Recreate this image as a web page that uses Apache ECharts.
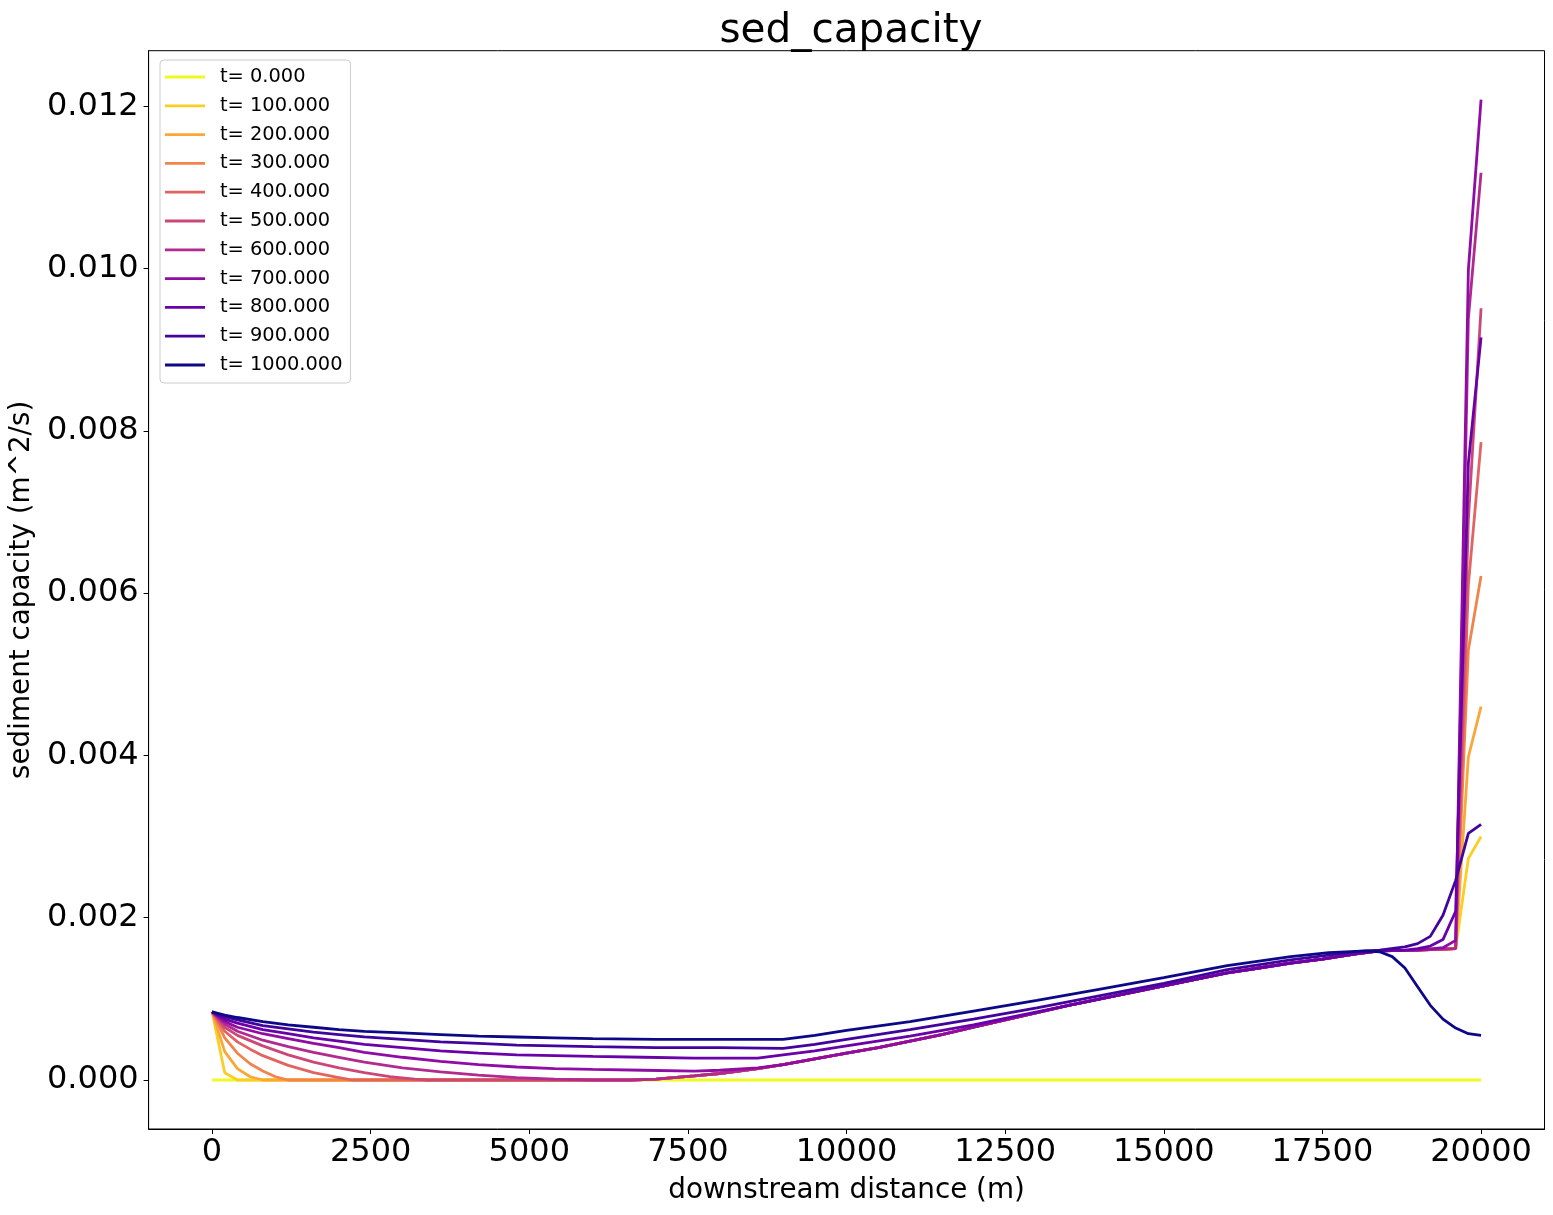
<!DOCTYPE html>
<html>
<head>
<meta charset="utf-8">
<title>sed_capacity</title>
<script src="https://cdn.jsdelivr.net/npm/echarts@6/dist/echarts.min.js"></script>
<style>
    html, body { margin: 0; padding: 0; background: #fff; }
    #chart { width: 1553px; height: 1215px; }
</style>
</head>
<body>
<div id="chart"></div>
<script>
'use strict';

// legend labels and colours (plasma, reversed)
var timeLabels = ['t= 0.000', 't= 100.000', 't= 200.000', 't= 300.000', 't= 400.000', 't= 500.000',
    't= 600.000', 't= 700.000', 't= 800.000', 't= 900.000', 't= 1000.000'];
var lineColors = ['#f0f921', '#fcce25', '#fca636', '#f2844b', '#e16462', '#cc4778',
    '#b12a90', '#8f0da4', '#6a00a8', '#41049d', '#0d0887'];

var xTicks = [0, 2500, 5000, 7500, 10000, 12500, 15000, 17500, 20000];
var yTicks = [0, 0.002, 0.004, 0.006, 0.008, 0.010, 0.012];

// [downstream distance (m), sediment capacity (m^2/s)]

// the rising stretch most profiles share in the middle of the reach
var sharedRise = [[6600, 0], [7000, 0.00001], [7600, 0.00005], [8000, 0.00008], [8600, 0.00014],
    [9000, 0.00019], [9500, 0.00026], [10000, 0.00033], [10500, 0.00040], [11000, 0.00048],
    [11500, 0.00056], [12000, 0.00065], [12500, 0.00074], [13000, 0.00083], [13500, 0.00092],
    [14000, 0.00100], [14500, 0.00108], [15000, 0.00116], [15500, 0.00124], [16000, 0.00132],
    [16500, 0.00138], [17000, 0.00144], [17500, 0.00149], [18000, 0.00155], [18400, 0.00159]];

var sed0 = [[0, 0], [20000, 0]];

var head100 = [[0, 0.00084], [200, 0.00009], [400, 0]];
var tail100 = [[19000, 0.00160], [19600, 0.00162], [19800, 0.00273], [20000, 0.00300]];

var head200 = [[0, 0.00084], [200, 0.00035], [400, 0.00014], [600, 0.00004], [800, 0]];
var tail200 = [[19000, 0.00160], [19600, 0.00162], [19800, 0.00398], [20000, 0.00460]];

var head300 = [[0, 0.00084], [200, 0.00052], [400, 0.00033], [600, 0.00020], [800, 0.00011],
    [1000, 0.00004], [1200, 0]];
var tail300 = [[19000, 0.00160], [19600, 0.00162], [19800, 0.00530], [20000, 0.00621]];

var head400 = [[0, 0.00084], [200, 0.00060], [400, 0.00047], [600, 0.00038], [800, 0.00030],
    [1200, 0.00018], [1600, 0.00009], [2000, 0.00003], [2200, 0]];
var tail400 = [[19000, 0.00160], [19600, 0.00162], [19800, 0.00610], [20000, 0.00786]];

var head500 = [[0, 0.00084], [200, 0.00065], [400, 0.00055], [800, 0.00042], [1200, 0.00031],
    [1600, 0.00022], [2000, 0.00015], [2400, 0.00009], [2800, 0.00004], [3200, 0.00001], [3400, 0]];
var tail500 = [[19000, 0.00160], [19600, 0.00162], [19800, 0.00690], [20000, 0.00951]];

var head600 = [[0, 0.00084], [200, 0.00069], [400, 0.00060], [800, 0.00049], [1200, 0.00041],
    [1600, 0.00034], [2000, 0.00028], [2400, 0.00022], [3000, 0.00015], [3600, 0.00010],
    [4200, 0.00006], [4800, 0.00003], [5400, 0.00001], [6000, 0]];
var tail600 = [[19000, 0.00160], [19600, 0.00162], [19800, 0.00938], [20000, 0.01118]];

var head700 = [[0, 0.00084], [200, 0.00072], [400, 0.00065], [800, 0.00057], [1200, 0.00051],
    [1600, 0.00045], [2000, 0.00040], [2400, 0.00034], [3000, 0.00028], [3600, 0.00023],
    [4200, 0.00019], [4800, 0.00016], [5400, 0.00014], [6000, 0.00013], [6800, 0.00012],
    [7600, 0.00011], [8000, 0.00012], [8600, 0.00015]];
var tail700 = [[19000, 0.00160], [19400, 0.00163], [19600, 0.00172], [19800, 0.00998], [20000, 0.01208]];

var head800 = [[0, 0.00084], [200, 0.00075], [400, 0.00070], [800, 0.00062], [1200, 0.00057],
    [1600, 0.00052], [2000, 0.00048], [2400, 0.00044], [3000, 0.00040], [3600, 0.00036],
    [4200, 0.00033], [4800, 0.00031], [5400, 0.00030], [6000, 0.00029], [6800, 0.00028],
    [7600, 0.00027], [8600, 0.00027], [9000, 0.00031], [9500, 0.00036], [10000, 0.00042],
    [11000, 0.00054], [12000, 0.00068], [13000, 0.00084], [14000, 0.00100]];
var tail800 = [[18800, 0.00160], [19000, 0.00162], [19200, 0.00165], [19400, 0.00173],
    [19600, 0.00208], [19800, 0.00760], [20000, 0.00915]];

var head900 = [[0, 0.00084], [200, 0.00078], [400, 0.00074], [800, 0.00067], [1200, 0.00063],
    [1600, 0.00059], [2000, 0.00056], [2400, 0.00053], [3000, 0.00050], [3600, 0.00047],
    [4200, 0.00045], [4800, 0.00043], [5400, 0.00042], [6000, 0.00041], [7000, 0.00040],
    [8000, 0.00040], [9000, 0.00039], [9500, 0.00044], [10000, 0.00050], [11000, 0.00062],
    [12000, 0.00075], [13000, 0.00089], [14000, 0.00104], [15000, 0.00119], [16000, 0.00136],
    [17000, 0.00148], [17600, 0.00154], [18000, 0.00158], [18400, 0.00160]];
var tail900 = [[18800, 0.00164], [19000, 0.00168], [19200, 0.00177], [19400, 0.00203],
    [19600, 0.00246], [19800, 0.00304], [20000, 0.00315]];

var sed1000 = [[0, 0.00084], [200, 0.00080], [400, 0.00077], [800, 0.00072], [1200, 0.00068],
    [1600, 0.00065], [2000, 0.00062], [2400, 0.00060], [3000, 0.00058], [3600, 0.00056],
    [4200, 0.00054], [4800, 0.00053], [5400, 0.00052], [6000, 0.00051], [7000, 0.00050],
    [8000, 0.00050], [9000, 0.00050], [9500, 0.00055], [10000, 0.00061], [11000, 0.00072],
    [12000, 0.00085], [13000, 0.00098], [14000, 0.00112], [15000, 0.00126], [16000, 0.00141],
    [17000, 0.00152], [17600, 0.00157], [18200, 0.00159], [18400, 0.00158], [18600, 0.00152],
    [18800, 0.00138], [19000, 0.00115], [19200, 0.00092], [19400, 0.00075], [19600, 0.00064],
    [19800, 0.00057], [20000, 0.00055]];

function riseFrom(x0) {
    return sharedRise.filter(function(p) { return p[0] >= x0; });
}

var profiles = [
    sed0,
    head100.concat(sharedRise, tail100),
    head200.concat(sharedRise, tail200),
    head300.concat(sharedRise, tail300),
    head400.concat(sharedRise, tail400),
    head500.concat(sharedRise, tail500),
    head600.concat(sharedRise, tail600),
    head700.concat(riseFrom(9000), tail700),
    head800.concat(riseFrom(14500), tail800),
    head900.concat(tail900),
    sed1000
];

var FONT = '"DejaVu Sans", "Liberation Sans", sans-serif';

var chart = echarts.init(document.getElementById('chart'), null, {renderer: 'canvas'});

var series = profiles.map(function(data, i) {
    return {
        name: timeLabels[i],
        type: 'line',
        data: data,
        symbol: 'none',
        showSymbol: false,
        silent: true,
        clip: true,
        lineStyle: {width: 2.8, color: lineColors[i]},
        itemStyle: {color: lineColors[i]},
        emphasis: {disabled: true}
    };
});

chart.setOption({
    animation: false,
    backgroundColor: '#ffffff',
    title: {
        text: 'sed_capacity',
        left: 846,
        top: 6,
        textAlign: 'center',
        textStyle: {fontFamily: FONT, fontSize: 40.5, fontWeight: 'normal', color: '#000'}
    },
    legend: {
        data: timeLabels,
        orient: 'vertical',
        left: 160,
        top: 60,
        icon: 'rect',
        itemWidth: 40,
        itemHeight: 2.8,
        itemGap: 8.8,
        padding: [7, 8, 8, 5],
        selectedMode: false,
        backgroundColor: 'rgba(255,255,255,0.8)',
        borderColor: '#cccccc',
        borderWidth: 1,
        borderRadius: 4,
        textStyle: {fontFamily: FONT, fontSize: 19.4, color: '#000', lineHeight: 20, padding: [0, 0, 0, 10]}
    },
    grid: {
        left: 148.6,
        right: 8.5,
        top: 50.7,
        bottom: 86,
        show: true,
        borderColor: '#000',
        borderWidth: 1,
        backgroundColor: 'transparent'
    },
    xAxis: {
        type: 'value',
        min: -1000,
        max: 21000,
        name: 'downstream distance (m)',
        nameLocation: 'middle',
        nameGap: 48,
        nameTextStyle: {fontFamily: FONT, fontSize: 27.8, color: '#000'},
        axisLine: {show: true, onZero: false, lineStyle: {color: '#000', width: 1}},
        axisTick: {show: true, customValues: xTicks, length: 5, lineStyle: {color: '#000', width: 1}},
        axisLabel: {
            customValues: xTicks,
            margin: 8,
            fontFamily: FONT,
            fontSize: 32,
            color: '#000',
            formatter: function(v) { return String(v); }
        },
        splitLine: {show: false}
    },
    yAxis: {
        type: 'value',
        min: -0.000604,
        max: 0.012684,
        name: 'sediment capacity (m^2/s)',
        nameLocation: 'middle',
        nameRotate: 90,
        nameGap: 112,
        nameTextStyle: {fontFamily: FONT, fontSize: 27.8, color: '#000'},
        axisLine: {show: true, onZero: false, lineStyle: {color: '#000', width: 1}},
        axisTick: {show: true, customValues: yTicks, length: 5, lineStyle: {color: '#000', width: 1}},
        axisLabel: {
            customValues: yTicks,
            margin: 10,
            fontFamily: FONT,
            fontSize: 32,
            color: '#000',
            formatter: function(v) { return v.toFixed(3); }
        },
        splitLine: {show: false}
    },
    series: series
});
</script>
</body>
</html>
